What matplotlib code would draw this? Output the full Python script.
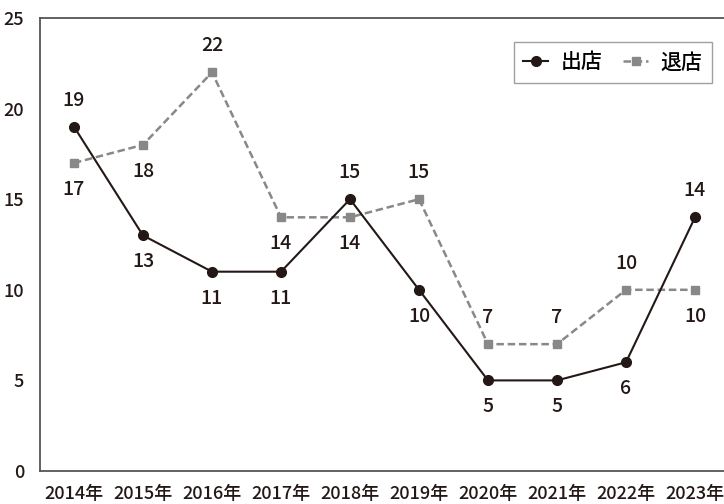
import matplotlib
matplotlib.use("Agg")
import matplotlib.pyplot as plt

plt.rcParams['font.family'] = ['Noto Sans CJK JP', 'DejaVu Sans']
plt.rcParams['font.weight'] = 'medium'

years = ["2014年", "2015年", "2016年", "2017年", "2018年", "2019年", "2020年", "2021年", "2022年", "2023年"]
open_vals = [19, 13, 11, 11, 15, 10, 5, 5, 6, 14]
close_vals = [17, 18, 22, 14, 14, 15, 7, 7, 10, 10]
open_pos = ["above", "below", "below", "below", "above", "below", "below", "below", "below", "above"]
close_pos = ["below", "below", "above", "below", "below", "above", "above", "above", "above", "below"]

fig = plt.figure(figsize=(7.24, 5.04), dpi=100)
ax = fig.add_axes([39.5/724, 1 - 471/504, 690/724, 453/504])

x = list(range(len(years)))
dark = "#231815"
gray = "#888888"
ax.plot(x, open_vals, color=dark, lw=1.5, marker='o', ms=7, label="出店", zorder=3)
ax.plot(x, close_vals, color=gray, lw=1.8, ls=(0, (3, 1.5)), marker='s', ms=6, label="退店", zorder=2)

for xi, v, p in zip(x, open_vals, open_pos):
    off = 19 if p == "above" else -19
    ax.annotate(str(v), (xi, v), xytext=(0, off), textcoords='offset points',
                ha='center', va='center', fontsize=14, color=dark)
for xi, v, p in zip(x, close_vals, close_pos):
    off = 19 if p == "above" else -19
    ax.annotate(str(v), (xi, v), xytext=(0, off), textcoords='offset points',
                ha='center', va='center', fontsize=14, color=dark)

ax.set_xlim(-0.5, 9.5)
ax.set_ylim(0, 25)
ax.set_yticks([0, 5, 10, 15, 20, 25])
ax.set_xticks(x)
ax.set_xticklabels(years)
ax.tick_params(length=0, labelsize=13, colors=dark, pad=10)
ax.tick_params(axis='y', pad=11)
for s in ['left', 'bottom', 'top']:
    ax.spines[s].set_color('#555555')
    ax.spines[s].set_linewidth(1.3)
ax.spines['right'].set_visible(False)

leg = ax.legend(loc='upper right', bbox_to_anchor=((712-39.5)/690, 1 - 24/453), ncol=2,
                fontsize=15, frameon=True, fancybox=False, handlelength=1.2,
                columnspacing=1.0, handletextpad=0.6, borderpad=0.45, borderaxespad=0)
leg.get_frame().set_edgecolor('#888888')
leg.get_frame().set_linewidth(1.0)

fig.savefig("out.png", dpi=100)
